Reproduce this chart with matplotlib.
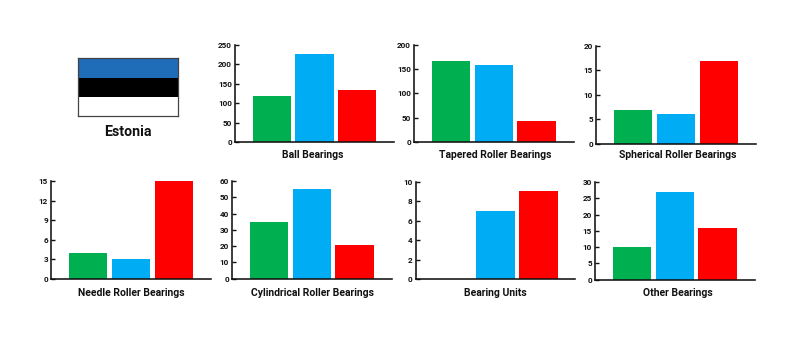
import matplotlib
matplotlib.use("Agg")
import matplotlib.pyplot as plt
from matplotlib.patches import Rectangle

W, H = 804, 357
plt.rcParams['font.family'] = ['Roboto', 'DejaVu Sans']

titles = ["Ball Bearings", "Tapered Roller Bearings", "Spherical Roller Bearings",
          "Needle Roller Bearings", "Cylindrical Roller Bearings", "Bearing Units", "Other Bearings"]
ball = [119, 226, 134]
tapered = [166, 159, 43]
spherical = [7, 6, 17]
needle = [4, 3, 15]
cylindrical = [35, 55, 21]
units = [0, 7, 9]
other = [10, 27, 16]
series = [ball, tapered, spherical, needle, cylindrical, units, other]
yticks = [[0, 50, 100, 150, 200, 250], [0, 50, 100, 150, 200], [0, 5, 10, 15, 20],
          [0, 3, 6, 9, 12, 15], [0, 10, 20, 30, 40, 50, 60], [0, 2, 4, 6, 8, 10],
          [0, 5, 10, 15, 20, 25, 30]]
colors = ["#00B050", "#00ADF5", "#FF0000"]
flag_colors = ["#1F6CB8", "#000000", "#FFFFFF"]
country = "Estonia"

# left, top, right, bottom in pixels
boxes = [(235, 44.7, 394, 142.3), (414, 44.5, 573.7, 142.3), (596, 46, 756, 143.7),
         (51, 181, 211, 278.7), (232, 181, 391.7, 278.7), (415.7, 181.7, 575.3, 279),
         (595, 182, 754.7, 279.7)]
title_pos = [(313, 155), (495.7, 155), (677.7, 155.5), (131, 292.5), (313, 292.5),
             (495.7, 292.5), (677.7, 292.5)]

fig = plt.figure(figsize=(W / 100, H / 100), dpi=100, facecolor="white")


def add_axes(l, t, r, b):
    return fig.add_axes([l / W, 1 - b / H, (r - l) / W, (b - t) / H])


for box, vals, ticks, title, tp in zip(boxes, series, yticks, titles, title_pos):
    ax = add_axes(*box)
    ax.bar(range(3), vals, width=0.9, color=colors)
    ax.set_xlim(-0.86, 2.86)
    ax.set_ylim(ticks[0], ticks[-1])
    ax.set_xticks([])
    ax.set_yticks(ticks)
    ax.tick_params(axis="y", direction="in", length=3, width=1.0, pad=2.2,
                   labelsize=5.9, colors="#111111")
    for lbl in ax.get_yticklabels():
        lbl.set_fontweight("bold")
    for s in ("top", "right"):
        ax.spines[s].set_visible(False)
    for s in ("left", "bottom"):
        ax.spines[s].set_linewidth(1.15)
        ax.spines[s].set_color("#111111")
    ax.patch.set_alpha(0)
    fig.text(tp[0] / W, 1 - tp[1] / H, title, ha="center", va="center",
             fontsize=7.5, fontweight="bold", color="#111111")

# flag
fl = add_axes(78.3, 58.3, 177.7, 116)
fl.set_xlim(0, 1)
fl.set_ylim(0, 3)
for i, c in enumerate(flag_colors):
    fl.add_patch(Rectangle((0, 2 - i), 1, 1, facecolor=c, edgecolor="none"))
fl.set_xticks([])
fl.set_yticks([])
for s in fl.spines.values():
    s.set_linewidth(0.9)
    s.set_color("#444444")

fig.text(127.7 / W, 1 - 132.5 / H, country, ha="center", va="center", fontsize=10.2,
         fontweight="bold", color="#111111")

fig.savefig("out.png", dpi=100, facecolor="white")
